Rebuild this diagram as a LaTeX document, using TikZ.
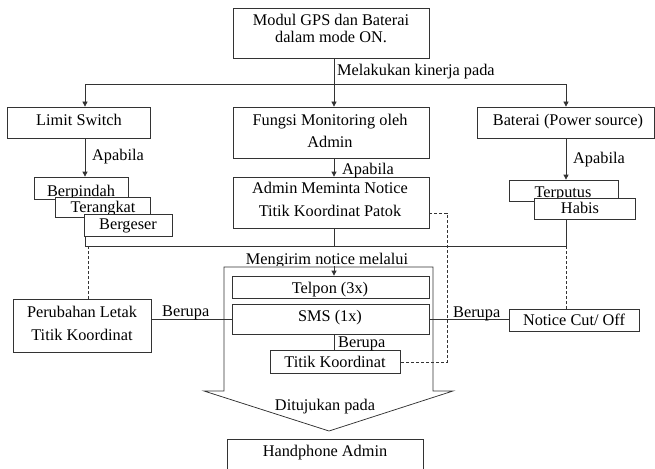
\documentclass[tikz,border=0pt]{standalone}
\usepackage{fontspec}
\setmainfont{Liberation Serif}
\usetikzlibrary{arrows.meta,calc}
\begin{document}
\begin{tikzpicture}[x=1pt,y=-1pt,
  every node/.style={font=\fontsize{16.3pt}{19pt}\selectfont, text=black},
  box/.style={draw=black!80, line width=0.75pt, fill=white, rectangle, inner sep=0pt},
  txt/.style={anchor=base, inner sep=0pt},
  lbl/.style={anchor=base west, inner sep=0pt},
  con/.style={draw=black!80, line width=0.75pt},
  arr/.style={con, -{Triangle[length=5pt,width=5pt]}},
  dsh/.style={con, dash pattern=on 3pt off 2pt},
]
\useasboundingbox (0,0) rectangle (655,468);

% helper coordinates
\coordinate (cx) at (334,0);
\coordinate (lsx) at (85,0);
\coordinate (hub) at (334,84);
\coordinate (bus) at (334,246);
\coordinate (busL) at (85,246);
\coordinate (busR) at (566,246);
\coordinate (dl) at (88,246);
\coordinate (dd) at (447,213);

% big arrow shape
\draw[con, fill=white] (224,267) -- (433,267) -- (433,391) -- (453,391) -- (329,431) -- (204,391) -- (224,391) -- cycle;

% boxes
\node[box, minimum width=196pt, minimum height=50pt] (top) at (331,33) {};
\node[txt] (topA) at (331,26) {Modul GPS dan Baterai};
\node[txt] (topB) at (331,43) {dalam mode ON.};

\node[box, minimum width=143pt, minimum height=31pt] (ls) at (78.5,122.5) {};
\node[txt] (lsT) at (79,125) {Limit Switch};

\node[box, minimum width=196pt, minimum height=51pt] (fm) at (331,132.5) {};
\node[txt] (fmA) at (330,125) {Fungsi Monitoring oleh};
\node[txt] (fmB) at (330,147) {Admin};

\node[box, minimum width=177.5pt, minimum height=31pt] (bat) at (565.75,122.5) {};
\node[txt] (batT) at (568,125) {Baterai (Power source)};

\node[box, minimum width=94pt, minimum height=22pt] (berp) at (81,188) {};
\node[txt] (berpT) at (81,196) {Berpindah};
\node[box, minimum width=95pt, minimum height=20pt] (ter) at (102.5,207) {};
\node[txt] (terT) at (103,212) {Terangkat};
\node[box, minimum width=88pt, minimum height=22pt] (berg) at (128,225) {};
\node[txt] (bergT) at (128,229) {Bergeser};

\node[box, minimum width=196pt, minimum height=51pt] (adm) at (331,202.5) {};
\node[txt] (admA) at (330,193) {Admin Meminta Notice};
\node[txt] (admB) at (330,216) {Titik Koordinat Patok};

\node[box, minimum width=109pt, minimum height=21pt] (terp) at (563.5,190.5) {};
\node[txt] (terpT) at (563,197) {Terputus};
\node[box, minimum width=101pt, minimum height=21pt] (habis) at (584.5,208.5) {};
\node[txt] (habisT) at (580,213) {Habis};

\node[box, minimum width=138pt, minimum height=53pt] (per) at (82,325.5) {};
\node[txt] (perA) at (82,317) {Perubahan Letak};
\node[txt] (perB) at (82,340) {Titik Koordinat};

\node[box, minimum width=130pt, minimum height=22pt] (notice) at (574,320) {};
\node[txt] (noticeT) at (574,325) {Notice Cut/ Off};

\node[box, minimum width=197pt, minimum height=22pt] (telp) at (330.5,287) {};
\node[txt] (telpT) at (330,293) {Telpon (3x)};
\node[box, minimum width=197pt, minimum height=30pt] (sms) at (330.5,319) {};
\node[txt] (smsT) at (330,321) {SMS (1x)};
\node[box, minimum width=130pt, minimum height=23pt] (tk) at (335,362) {};
\node[txt] (tkT) at (335,367) {Titik Koordinat};

\node[box, minimum width=196pt, minimum height=36pt] (hp) at (325,457) {};
\node[txt] (hpT) at (325,456) {Handphone Admin};

% connectors
\draw[arr] (top.south -| cx) -- (fm.north -| cx);
\draw[arr] (hub) -| (ls.north -| lsx);
\draw[arr] (hub) -| (busR |- bat.north);
\draw[arr] (ls.south -| lsx) -- (berp.north -| lsx);
\draw[arr] (fm.south -| cx) -- (adm.north -| cx);
\draw[arr] (bat.south -| busR) -- (terp.north -| busR);
\draw[con] (berg.south -| lsx) -- (busL) -- (busR) -- (habis.south -| busR);
\draw[con] (adm.south -| cx) -- (bus);
\draw[arr] (bus) -- (telp.north -| cx);
\draw[dsh] (dl) -- (per.north -| dl);
\draw[dsh] (busR) -- (notice.north -| busR);
\draw[dsh] (adm.east |- dd) -- (dd) |- (tk.east);
\draw[con] (per.east |- sms.west) -- (sms.west);
\draw[con] (sms.east) -- (notice.west |- sms.east);
\draw[con] (sms.south -| cx) -- (tk.north -| cx);

% labels
\node[lbl] (l1) at (337,76) {Melakukan kinerja pada};
\node[lbl] (l2) at (92,160) {Apabila};
\node[lbl] (l3) at (342,174) {Apabila};
\node[lbl] (l4) at (573,163) {Apabila};
\node[lbl] (l5) at (162,316) {Berupa};
\node[lbl] (l6) at (453,317) {Berupa};
\node[lbl] (l7) at (338,347) {Berupa};
\node[txt] (l8) at (325,410) {Ditujukan pada};
\begin{scope}
\clip (200,230) rectangle (460,265);
\node[txt, fill=white, inner xsep=2pt, inner ysep=5.5pt] (l9) at (327,264) {Mengirim notice melalui};
\end{scope}
\end{tikzpicture}
\end{document}
